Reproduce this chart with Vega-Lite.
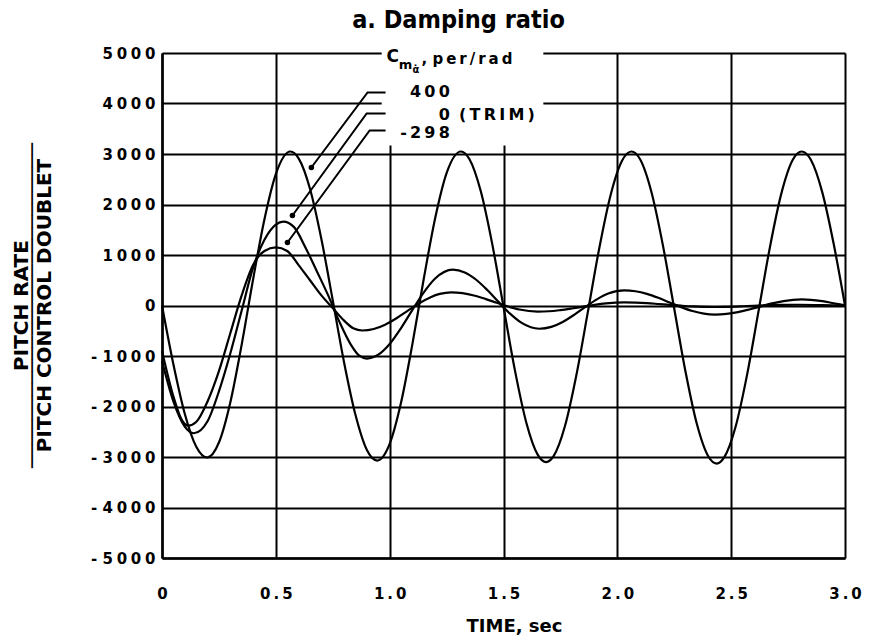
{
  "$schema": "https://vega.github.io/schema/vega-lite/v6.json",
  "width": 683,
  "height": 505,
  "autosize": {"type": "none"},
  "padding": {"left": 162, "top": 53, "right": 31, "bottom": 81},
  "background": "white",
  "config": {"view": {"stroke": null}, "font": "DejaVu Sans"},
  "title": {"text": "a.  Damping ratio", "font": "DejaVu Sans Condensed", "fontSize": 25, "fontWeight": "bold", "color": "black", "anchor": "middle", "dx": -45, "offset": -8, "baseline": "alphabetic"},
  "datasets": {
    "curves": [
      {"c": "400", "t": 0, "v": 0}, {"c": "400", "t": 0.05, "v": -1163}, {"c": "400", "t": 0.1, "v": -2144}, {"c": "400", "t": 0.15, "v": -2794}, {"c": "400", "t": 0.198, "v": -3010},
      {"c": "400", "t": 0.25, "v": -2713}, {"c": "400", "t": 0.3, "v": -1919}, {"c": "400", "t": 0.35, "v": -774}, {"c": "400", "t": 0.4, "v": 514}, {"c": "400", "t": 0.45, "v": 1708}, {"c": "400", "t": 0.5, "v": 2602}, {"c": "400", "t": 0.564, "v": 3050},
      {"c": "400", "t": 0.6, "v": 2915}, {"c": "400", "t": 0.65, "v": 2313}, {"c": "400", "t": 0.7, "v": 1318}, {"c": "400", "t": 0.75, "v": 103}, {"c": "400", "t": 0.8, "v": -1133}, {"c": "400", "t": 0.85, "v": -2170}, {"c": "400", "t": 0.9, "v": -2862}, {"c": "400", "t": 0.945, "v": -3070},
      {"c": "400", "t": 1.0, "v": -2740}, {"c": "400", "t": 1.05, "v": -1923}, {"c": "400", "t": 1.1, "v": -760}, {"c": "400", "t": 1.15, "v": 535}, {"c": "400", "t": 1.2, "v": 1734}, {"c": "400", "t": 1.25, "v": 2622}, {"c": "400", "t": 1.313, "v": 3050},
      {"c": "400", "t": 1.35, "v": 2902}, {"c": "400", "t": 1.4, "v": 2266}, {"c": "400", "t": 1.45, "v": 1230}, {"c": "400", "t": 1.5, "v": -25}, {"c": "400", "t": 1.55, "v": -1280}, {"c": "400", "t": 1.6, "v": -2316}, {"c": "400", "t": 1.65, "v": -2952}, {"c": "400", "t": 1.687, "v": -3100},
      {"c": "400", "t": 1.72, "v": -2983}, {"c": "400", "t": 1.77, "v": -2387}, {"c": "400", "t": 1.82, "v": -1381}, {"c": "400", "t": 1.87, "v": -142}, {"c": "400", "t": 1.92, "v": 1119}, {"c": "400", "t": 1.97, "v": 2180}, {"c": "400", "t": 2.02, "v": 2862}, {"c": "400", "t": 2.062, "v": 3050},
      {"c": "400", "t": 2.1, "v": 2895}, {"c": "400", "t": 2.15, "v": 2243}, {"c": "400", "t": 2.2, "v": 1196}, {"c": "400", "t": 2.25, "v": -65}, {"c": "400", "t": 2.3, "v": -1322}, {"c": "400", "t": 2.35, "v": -2358}, {"c": "400", "t": 2.4, "v": -2991}, {"c": "400", "t": 2.436, "v": -3130},
      {"c": "400", "t": 2.47, "v": -3003}, {"c": "400", "t": 2.52, "v": -2392}, {"c": "400", "t": 2.57, "v": -1369}, {"c": "400", "t": 2.62, "v": -117}, {"c": "400", "t": 2.67, "v": 1150}, {"c": "400", "t": 2.72, "v": 2210}, {"c": "400", "t": 2.77, "v": 2880}, {"c": "400", "t": 2.81, "v": 3050},
      {"c": "400", "t": 2.85, "v": 2885}, {"c": "400", "t": 2.9, "v": 2245}, {"c": "400", "t": 2.95, "v": 1226}, {"c": "400", "t": 3.0, "v": 0},

      {"c": "0", "t": 0, "v": -1100}, {"c": "0", "t": 0.05, "v": -1900}, {"c": "0", "t": 0.1, "v": -2400}, {"c": "0", "t": 0.14, "v": -2530}, {"c": "0", "t": 0.2, "v": -2293}, {"c": "0", "t": 0.25, "v": -1700}, {"c": "0", "t": 0.3, "v": -950}, {"c": "0", "t": 0.35, "v": -100},
      {"c": "0", "t": 0.4, "v": 750}, {"c": "0", "t": 0.45, "v": 1300}, {"c": "0", "t": 0.5, "v": 1600}, {"c": "0", "t": 0.533, "v": 1660}, {"c": "0", "t": 0.58, "v": 1552}, {"c": "0", "t": 0.63, "v": 1150}, {"c": "0", "t": 0.68, "v": 680}, {"c": "0", "t": 0.73, "v": 200},
      {"c": "0", "t": 0.78, "v": -330}, {"c": "0", "t": 0.83, "v": -780}, {"c": "0", "t": 0.865, "v": -990}, {"c": "0", "t": 0.9, "v": -1050}, {"c": "0", "t": 0.95, "v": -974}, {"c": "0", "t": 1.0, "v": -762}, {"c": "0", "t": 1.05, "v": -447}, {"c": "0", "t": 1.1, "v": -86},
      {"c": "0", "t": 1.15, "v": 261}, {"c": "0", "t": 1.2, "v": 535}, {"c": "0", "t": 1.277, "v": 710}, {"c": "0", "t": 1.33, "v": 655}, {"c": "0", "t": 1.38, "v": 510}, {"c": "0", "t": 1.43, "v": 301}, {"c": "0", "t": 1.48, "v": 62}, {"c": "0", "t": 1.53, "v": -166},
      {"c": "0", "t": 1.58, "v": -345}, {"c": "0", "t": 1.657, "v": -460}, {"c": "0", "t": 1.71, "v": -423}, {"c": "0", "t": 1.76, "v": -325}, {"c": "0", "t": 1.81, "v": -186}, {"c": "0", "t": 1.86, "v": -27}, {"c": "0", "t": 1.91, "v": 122}, {"c": "0", "t": 1.96, "v": 236},
      {"c": "0", "t": 2.03, "v": 300}, {"c": "0", "t": 2.08, "v": 282}, {"c": "0", "t": 2.13, "v": 230}, {"c": "0", "t": 2.18, "v": 152}, {"c": "0", "t": 2.23, "v": 60}, {"c": "0", "t": 2.28, "v": -32}, {"c": "0", "t": 2.33, "v": -110}, {"c": "0", "t": 2.38, "v": -162},
      {"c": "0", "t": 2.43, "v": -180}, {"c": "0", "t": 2.48, "v": -167}, {"c": "0", "t": 2.53, "v": -132}, {"c": "0", "t": 2.58, "v": -79}, {"c": "0", "t": 2.63, "v": -18}, {"c": "0", "t": 2.68, "v": 41}, {"c": "0", "t": 2.73, "v": 88}, {"c": "0", "t": 2.81, "v": 120},
      {"c": "0", "t": 2.85, "v": 112}, {"c": "0", "t": 2.9, "v": 85}, {"c": "0", "t": 2.95, "v": 45}, {"c": "0", "t": 3.0, "v": 5},

      {"c": "-298", "t": 0, "v": -900}, {"c": "-298", "t": 0.05, "v": -1800}, {"c": "-298", "t": 0.085, "v": -2250}, {"c": "-298", "t": 0.115, "v": -2380}, {"c": "-298", "t": 0.15, "v": -2308}, {"c": "-298", "t": 0.2, "v": -1900}, {"c": "-298", "t": 0.25, "v": -1300}, {"c": "-298", "t": 0.3, "v": -550},
      {"c": "-298", "t": 0.35, "v": 200}, {"c": "-298", "t": 0.4, "v": 800}, {"c": "-298", "t": 0.45, "v": 1080}, {"c": "-298", "t": 0.5, "v": 1150}, {"c": "-298", "t": 0.55, "v": 1080}, {"c": "-298", "t": 0.6, "v": 800}, {"c": "-298", "t": 0.65, "v": 500}, {"c": "-298", "t": 0.7, "v": 200},
      {"c": "-298", "t": 0.75, "v": -50}, {"c": "-298", "t": 0.8, "v": -300}, {"c": "-298", "t": 0.84, "v": -450}, {"c": "-298", "t": 0.88, "v": -495}, {"c": "-298", "t": 0.93, "v": -465}, {"c": "-298", "t": 0.98, "v": -379}, {"c": "-298", "t": 1.03, "v": -252}, {"c": "-298", "t": 1.08, "v": -103},
      {"c": "-298", "t": 1.13, "v": 44}, {"c": "-298", "t": 1.18, "v": 164}, {"c": "-298", "t": 1.22, "v": 229}, {"c": "-298", "t": 1.27, "v": 260}, {"c": "-298", "t": 1.32, "v": 244}, {"c": "-298", "t": 1.37, "v": 199}, {"c": "-298", "t": 1.42, "v": 132}, {"c": "-298", "t": 1.47, "v": 54},
      {"c": "-298", "t": 1.52, "v": -20}, {"c": "-298", "t": 1.57, "v": -80}, {"c": "-298", "t": 1.65, "v": -120}, {"c": "-298", "t": 1.7, "v": -114}, {"c": "-298", "t": 1.75, "v": -91}, {"c": "-298", "t": 1.8, "v": -59}, {"c": "-298", "t": 1.85, "v": -23}, {"c": "-298", "t": 1.9, "v": 13},
      {"c": "-298", "t": 1.95, "v": 41}, {"c": "-298", "t": 2.03, "v": 60}, {"c": "-298", "t": 2.08, "v": 56}, {"c": "-298", "t": 2.13, "v": 46}, {"c": "-298", "t": 2.18, "v": 30}, {"c": "-298", "t": 2.23, "v": 13}, {"c": "-298", "t": 2.28, "v": -3}, {"c": "-298", "t": 2.33, "v": -17},
      {"c": "-298", "t": 2.42, "v": -30}, {"c": "-298", "t": 2.47, "v": -28}, {"c": "-298", "t": 2.52, "v": -21}, {"c": "-298", "t": 2.57, "v": -10}, {"c": "-298", "t": 2.62, "v": 0}, {"c": "-298", "t": 2.67, "v": 7}, {"c": "-298", "t": 2.72, "v": 12}, {"c": "-298", "t": 2.8, "v": 15},
      {"c": "-298", "t": 2.9, "v": 10}, {"c": "-298", "t": 3.0, "v": 0}
    ],
    "leaders": [
      {"g": "400", "k": 1, "t": 0.982, "v": 4218}, {"g": "400", "k": 2, "t": 0.903, "v": 4218}, {"g": "400", "k": 3, "t": 0.656, "v": 2733},
      {"g": "0", "k": 1, "t": 0.982, "v": 3802}, {"g": "0", "k": 2, "t": 0.899, "v": 3802}, {"g": "0", "k": 3, "t": 0.573, "v": 1782},
      {"g": "-298", "k": 1, "t": 0.982, "v": 3465}, {"g": "-298", "k": 2, "t": 0.912, "v": 3465}, {"g": "-298", "k": 3, "t": 0.551, "v": 1248}
    ],
    "dots": [
      {"g": "400", "t": 0.656, "v": 2733}, {"g": "0", "t": 0.573, "v": 1782}, {"g": "-298", "t": 0.551, "v": 1248}
    ],
    "box": [{"t": 0.965, "t2": 1.675, "v": 3170, "v2": 5150}],
    "numlabels": [
      {"t": 1.264, "v": 4218, "s": "4\u20090\u20090"},
      {"t": 1.264, "v": 3782, "s": "0"},
      {"t": 1.264, "v": 3406, "s": "-\u20092\u20099\u20098"}
    ],
    "trim": [{"t": 1.305, "v": 3782, "s": "(\u2009T\u2009R\u2009I\u2009M\u2009)"}],
    "hdrC": [{"t": 1.013, "v": 4930, "s": "C"}],
    "hdrM": [{"t": 1.07, "v": 4772, "s": "m"}],
    "hdrA": [{"t": 1.115, "v": 4663, "s": "α̇"}],
    "hdrP": [{"t": 1.14, "v": 4881, "s": ",  p\u2009e\u2009r\u2009/\u2009r\u2009a\u2009d"}]
  },
  "encoding": {
    "x": {
      "field": "t", "type": "quantitative",
      "scale": {"domain": [0, 3], "nice": false, "zero": false},
      "axis": {
        "values": [0, 0.5, 1, 1.5, 2, 2.5, 3],
        "grid": true, "gridColor": "black", "gridWidth": 2, "gridOpacity": 1,
        "domain": true, "domainColor": "black", "domainWidth": 2.5,
        "ticks": false,
        "labelFont": "DejaVu Sans", "labelFontWeight": "bold", "labelFontSize": 15, "labelColor": "black",
        "labelPadding": 28, "labelFlush": false, "labelOverlap": false,
        "labelExpr": "datum.value == 0 ? '0' : join(split(format(datum.value, '.1f'), ''), '\u2009')",
        "title": "TIME,  sec", "titleFont": "DejaVu Sans", "titleFontSize": 18, "titleFontWeight": "bold", "titleColor": "black",
        "titleX": 352, "titleY": 68, "titleBaseline": "middle", "titleAlign": "center", "titleAnchor": null
      }
    },
    "y": {
      "field": "v", "type": "quantitative",
      "scale": {"domain": [-5000, 5000], "nice": false, "zero": false},
      "axis": {
        "values": [-5000, -4000, -3000, -2000, -1000, 0, 1000, 2000, 3000, 4000, 5000],
        "grid": true, "gridColor": "black", "gridWidth": 2, "gridOpacity": 1,
        "domain": true, "domainColor": "black", "domainWidth": 2.5,
        "ticks": false,
        "labelFont": "DejaVu Sans", "labelFontWeight": "bold", "labelFontSize": 15, "labelColor": "black",
        "labelPadding": 7, "labelOverlap": false, "labelFlush": false,
        "labelExpr": "datum.value < 0 ? '- ' + join(split(format(-datum.value, 'd'), ''), '\u2005') : join(split(format(datum.value, 'd'), ''), '\u2005')",
        "title": ["PITCH RATE", "───────────────────────────", "PITCH CONTROL DOUBLET"],
        "titleFont": "DejaVu Sans", "titleFontSize": 20, "titleFontWeight": "bold", "titleColor": "black",
        "titleLineHeight": 11.5, "titleAngle": 270, "titleX": -141, "titleY": 252,
        "titleBaseline": "middle", "titleAlign": "center", "titleAnchor": null
      }
    }
  },
  "layer": [
    {
      "data": {"name": "box"},
      "mark": {"type": "rect", "fill": "white", "stroke": null},
      "encoding": {"x2": {"field": "t2"}, "y2": {"field": "v2"}}
    },
    {
      "data": {"name": "curves"},
      "mark": {"type": "line", "color": "black", "strokeWidth": 2.2, "interpolate": "monotone"},
      "encoding": {"detail": {"field": "c", "type": "nominal"}}
    },
    {
      "data": {"name": "leaders"},
      "mark": {"type": "line", "color": "black", "strokeWidth": 2},
      "encoding": {"detail": {"field": "g", "type": "nominal"}, "order": {"field": "k", "type": "quantitative"}}
    },
    {
      "data": {"name": "dots"},
      "mark": {"type": "point", "filled": true, "color": "black", "size": 30, "opacity": 1}
    },
    {
      "data": {"name": "numlabels"},
      "mark": {"type": "text", "align": "right", "baseline": "middle", "font": "DejaVu Sans", "fontWeight": "bold", "fontSize": 16, "color": "black"},
      "encoding": {"text": {"field": "s"}}
    },
    {
      "data": {"name": "trim"},
      "mark": {"type": "text", "align": "left", "baseline": "middle", "font": "DejaVu Sans", "fontWeight": "bold", "fontSize": 16, "color": "black"},
      "encoding": {"text": {"field": "s"}}
    },
    {
      "data": {"name": "hdrC"},
      "mark": {"type": "text", "align": "center", "baseline": "middle", "font": "DejaVu Sans", "fontWeight": "bold", "fontSize": 17, "color": "black"},
      "encoding": {"text": {"field": "s"}}
    },
    {
      "data": {"name": "hdrM"},
      "mark": {"type": "text", "align": "center", "baseline": "middle", "font": "DejaVu Sans", "fontWeight": "bold", "fontSize": 13, "color": "black"},
      "encoding": {"text": {"field": "s"}}
    },
    {
      "data": {"name": "hdrA"},
      "mark": {"type": "text", "align": "center", "baseline": "middle", "font": "DejaVu Sans", "fontWeight": "bold", "fontSize": 10, "color": "black"},
      "encoding": {"text": {"field": "s"}}
    },
    {
      "data": {"name": "hdrP"},
      "mark": {"type": "text", "align": "left", "baseline": "middle", "font": "DejaVu Sans", "fontWeight": "bold", "fontSize": 15, "color": "black"},
      "encoding": {"text": {"field": "s"}}
    }
  ]
}
